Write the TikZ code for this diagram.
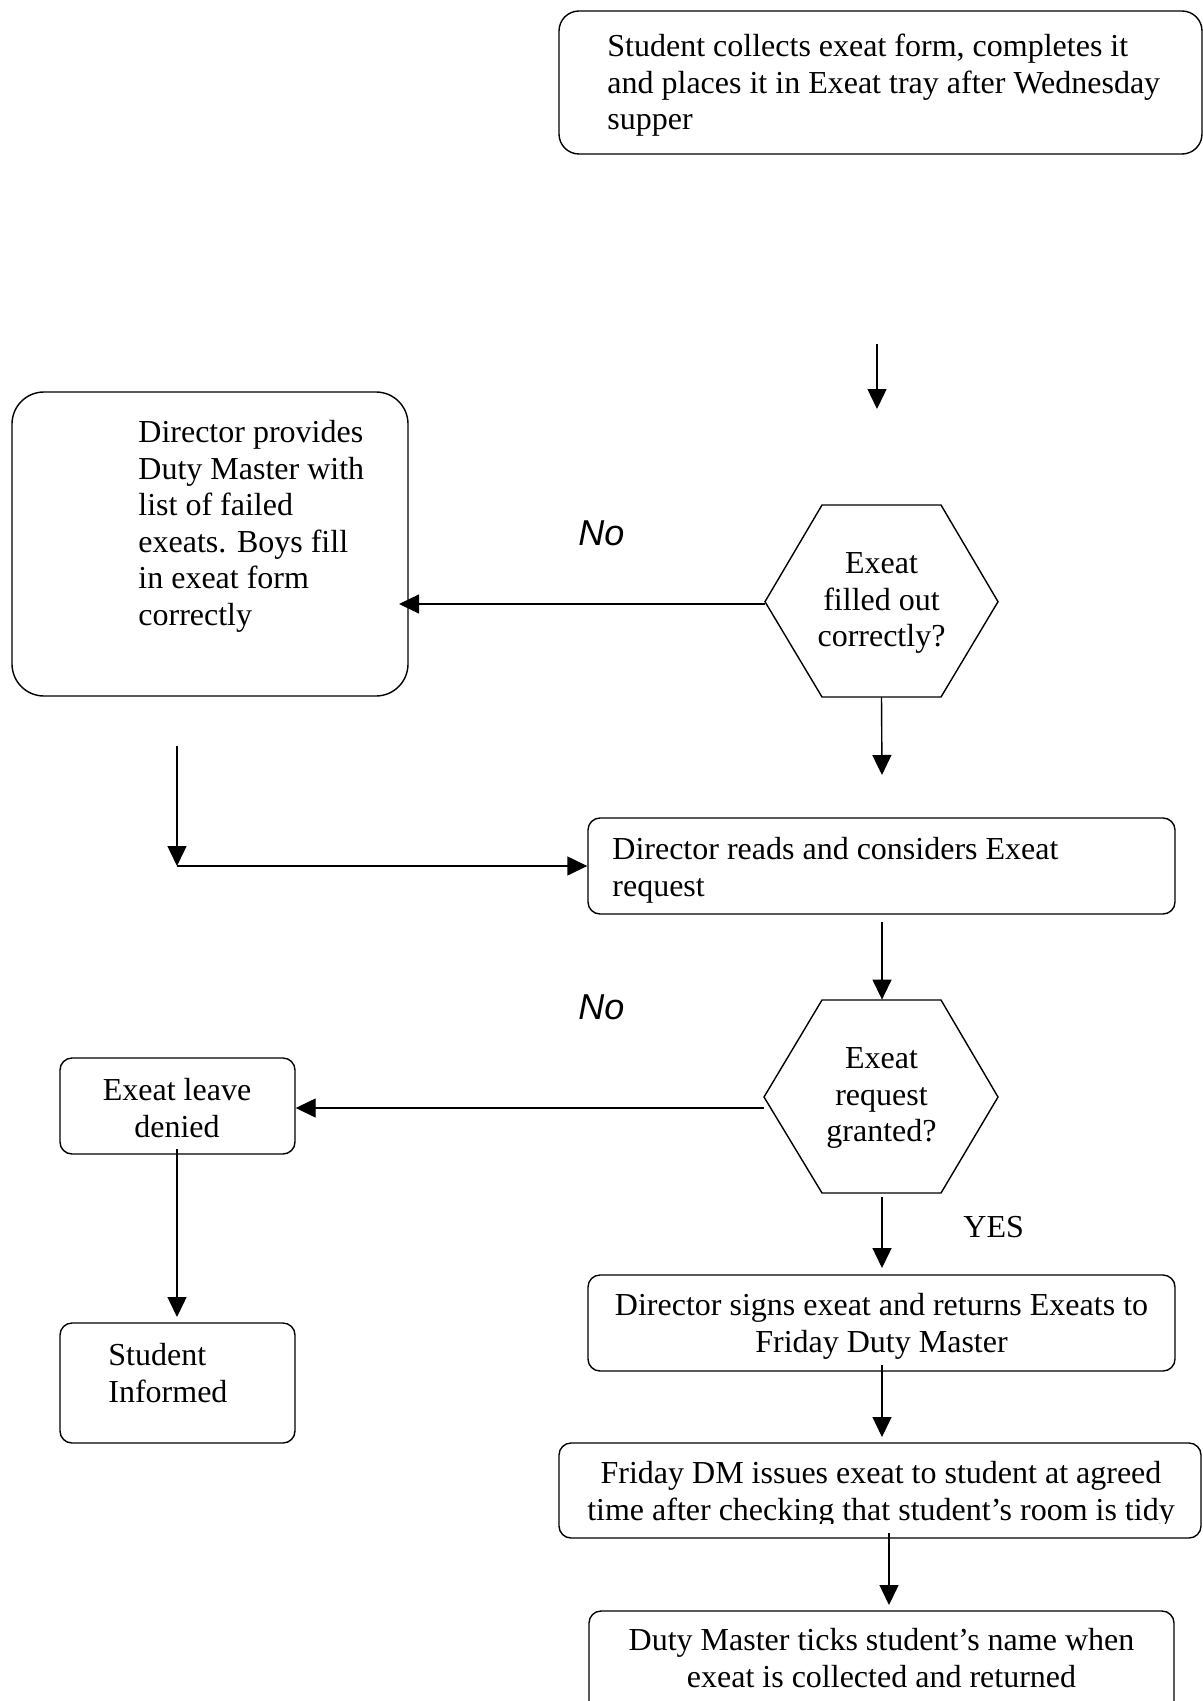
\documentclass[tikz,border=0pt]{standalone}
\usepackage{fontspec}
\setmainfont{Liberation Serif}
\newfontfamily\labelsans{Liberation Sans}
\usetikzlibrary{arrows.meta,fit}
\tikzset{
  box/.style={draw, line width=0.7pt, rounded corners=6pt, inner sep=0pt},
  bigbox/.style={box, rounded corners=16pt},
  topbox/.style={box, rounded corners=10pt},
  txt/.style={inner sep=0pt, font=\fontsize{16}{18.3}\selectfont},
  ltxt/.style={txt, align=left, anchor=north west},
  ctxt/.style={txt, align=center, anchor=north},
  arr/.style={line width=0.7pt, -{Triangle[length=10pt,width=9.5pt]}},
  hexline/.style={draw, line width=0.7pt, line join=miter},
  nolabel/.style={inner sep=0pt, font=\labelsans\itshape\fontsize{18}{21}\selectfont, anchor=base west},
  yeslabel/.style={inner sep=0pt, font=\fontsize{16}{18.3}\selectfont, anchor=base west},
}
\begin{document}
\begin{tikzpicture}[x=0.5pt,y=-0.5pt]
\clip (0,0) rectangle (1203,1701);
\fill[white] (0,0) rectangle (1203,1701);

% boxes
\node[topbox, fit={(559,11) (1202,154)}] (top) {};
\node[bigbox, fit={(12,392) (408,696)}] (fail) {};
\node[box, fit={(588,818) (1175,914)}] (reads) {};
\node[box, fit={(60,1058) (295,1154)}] (denied) {};
\node[box, fit={(60,1323) (295,1443)}] (informed) {};
\node[box, fit={(588,1275) (1175,1371)}] (signs) {};
\node[box, fit={(559,1443) (1201,1538)}] (friday) {};
\node[box, fit={(589,1611) (1174,1740)}] (ticks) {};

% hexagons
\node[inner sep=0pt, fit={(765,505) (998,697)}] (hexA) {};
\draw[hexline] (765,601.7) -- (822,505) -- (941,505) -- (998,601.7) -- (941,697) -- (822,697) -- cycle;
\node[inner sep=0pt, fit={(764,1000) (998,1193)}] (hexB) {};
\draw[hexline] (764,1097) -- (822,1000) -- (941,1000) -- (998,1097) -- (941,1193) -- (822,1193) -- cycle;

% texts
\node[ltxt] (ttop) at (607,30.4) {\strut Student collects exeat form, completes it\\and places it in Exeat tray after Wednesday\\supper};
\node[ltxt] (tfail) at (138,416.4) {\strut Director provides\\Duty Master with\\list of failed\\exeats. Boys fill\\in exeat form\\correctly};
\node[ctxt] (thexA) at (881.5,547.4) {\strut Exeat\\filled out\\correctly?};
\node[ltxt] (treads) at (612,833.4) {\strut Director reads and considers Exeat\\request};
\node[ctxt] (thexB) at (881.5,1042.4) {\strut Exeat\\request\\granted?};
\node[ctxt] (tdenied) at (177,1074.4) {\strut Exeat leave\\denied};
\node[ltxt] (tinformed) at (108,1339.4) {\strut Student\\Informed};
\node[ctxt] (tsigns) at (881.5,1289.4) {\strut Director signs exeat and returns Exeats to\\Friday Duty Master};
\begin{scope}
\clip (0,0) rectangle (1203,1523);
\node[ctxt] (tfriday) at (881,1457.4) {\strut Friday DM issues exeat to student at agreed\\time after checking that student’s room is tidy};
\end{scope}
\node[ctxt] (tticks) at (881.5,1624.4) {\strut Duty Master ticks student’s name when\\exeat is collected and returned};

\node[nolabel] (noA) at (578,545) {No};
\node[nolabel] (noB) at (578,1019) {No};
\node[yeslabel] (yes) at (963,1237) {YES};

% connector end points
\coordinate (a1s) at (877,344);
\coordinate (a1e) at (877,409);
\coordinate (a2s) at (765,604);
\coordinate (a2e) at (399,604);
\coordinate (a3e) at (882,775);
\coordinate (a4s) at (177,746);
\coordinate (a4e) at (177,866);
\coordinate (a5s) at (882,922);
\coordinate (a6s) at (764,1108);
\coordinate (a7s) at (882,1197);
\coordinate (a7e) at (882,1268);
\coordinate (a8s) at (177,1149);
\coordinate (a8e) at (177,1317);
\coordinate (a9s) at (882,1365);
\coordinate (a9e) at (882,1437);
\coordinate (a10s) at (889,1533);
\coordinate (a10e) at (889,1605);

% connectors
\draw[arr] (a1s) -- (a1e);
\draw[arr] (a2s) -- (a2e);
\draw[arr] (hexA.south) -- (a3e);
\draw[arr] (a4s) -- (a4e);
\draw[arr] (a4e) -- (reads.west);
\draw[arr] (a5s) -- (a5s |- hexB.north);
\draw[arr] (a6s) -- (a6s -| denied.east);
\draw[arr] (a7s) -- (a7e);
\draw[arr] (a8s) -- (a8e);
\draw[arr] (a9s) -- (a9e);
\draw[arr] (a10s) -- (a10e);
\end{tikzpicture}
\end{document}
